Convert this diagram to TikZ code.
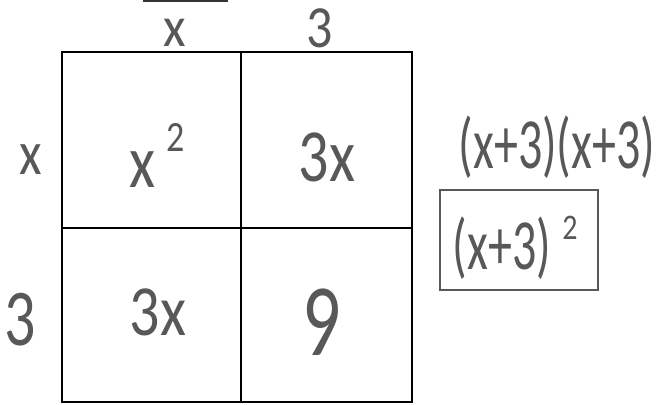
\documentclass[tikz,border=0pt]{standalone}
\usepackage{graphicx}
\usepackage{fontspec}
\setmainfont{Carlito}
\definecolor{pen}{RGB}{88,88,88}
\newcommand{\tallhw}[2]{\scalebox{1}[#1]{#2}}
\begin{document}
\begin{tikzpicture}[x=1pt,y=-1pt,
  gridline/.style={draw=black, line width=2.3pt},
  hw/.style={text=pen, inner sep=0pt},
  lbl/.style={hw, font=\fontsize{52}{52}\selectfont},
  celltext/.style={hw, font=\fontsize{60}{60}\selectfont},
  expr/.style={hw, font=\fontsize{48}{48}\selectfont},
  penbox/.style={draw=pen, line width=1.6pt}]
\useasboundingbox (0,0) rectangle (658,404);
\fill[white] (0,0) rectangle (658,404);
% scan artifact bar at top
\draw[line width=2.5pt, black!80] (143,1) -- (228,1);
% grid
\coordinate (g1) at (62,52);
\coordinate (g2) at (412,402);
\draw[gridline] (g1) rectangle (g2);
\draw[gridline] (241,52) -- (241,402);
\draw[gridline] (62,228) -- (412,228);
% labels
\node[lbl] (tx) at (175,33) {\tallhw{1.1}{x}};
\node[lbl] (t3) at (320,28) {\tallhw{1.15}{3}};
\node[lbl] (lx) at (31,160) {\tallhw{1.2}{x}};
\node[hw, font=\fontsize{62}{62}\selectfont] (l3) at (20,320) {\tallhw{1.3}{3}};
% cells
\node[celltext] (c11) at (142,170) {\tallhw{1.25}{x}};
\node[hw, font=\fontsize{36}{36}\selectfont] (c11e) at (176,137) {\tallhw{1.2}{2}};
\node[celltext] (c12) at (327,157) {\tallhw{1.25}{3x}};
\node[celltext] (c21) at (158,312) {\tallhw{1.2}{3x}};
\node[hw, font=\fontsize{76}{76}\selectfont] (c22) at (322,322) {\tallhw{1.35}{9}};
% expressions
\node[expr] (e1) at (557,147) {\tallhw{1.5}{(x+3)(x+3)}};
\node[expr] (e2) at (502,248) {\tallhw{1.5}{(x+3)}};
\node[hw, font=\fontsize{30}{30}\selectfont] (e2s) at (570,228) {\tallhw{1.2}{2}};
\draw[penbox] (440,190) rectangle (598,290);
\end{tikzpicture}
\end{document}
